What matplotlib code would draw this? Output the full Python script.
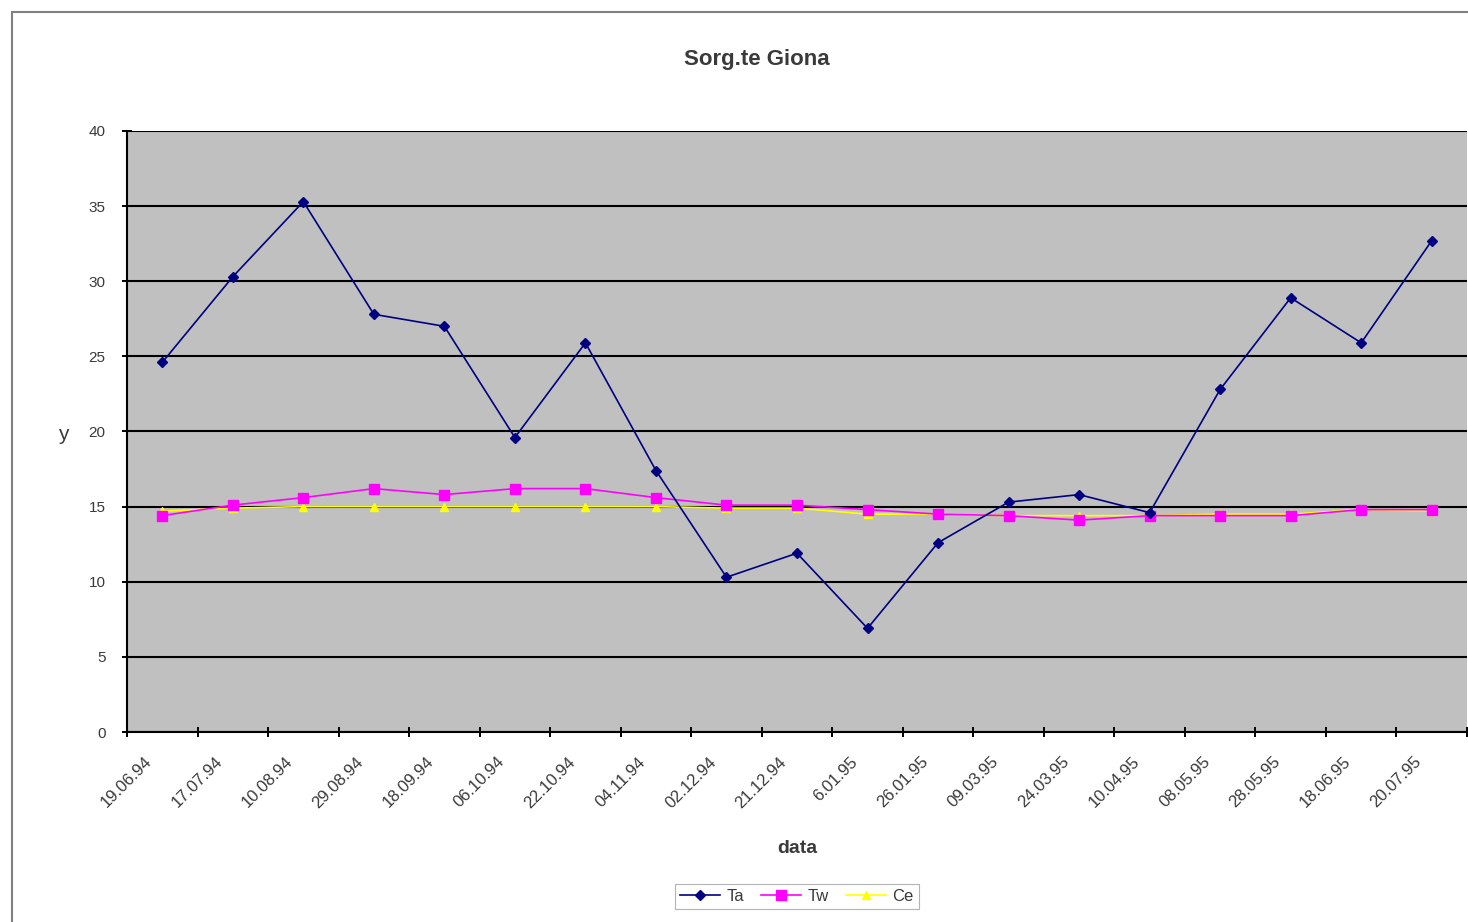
import matplotlib
matplotlib.use("Agg")
import matplotlib.pyplot as plt
import matplotlib.patches as mpatches
import matplotlib.transforms as mtrans
import numpy as np

plt.rcParams['font.family'] = ['Liberation Sans', 'DejaVu Sans']

title = "Sorg.te Giona"
x_label = "data"
y_label = "y"
dates = ["19.06.94", "17.07.94", "10.08.94", "29.08.94", "18.09.94", "06.10.94",
         "22.10.94", "04.11.94", "02.12.94", "21.12.94", "6.01.95", "26.01.95",
         "09.03.95", "24.03.95", "10.04.95", "08.05.95", "28.05.95", "18.06.95",
         "20.07.95"]
ta = [24.6, 30.3, 35.3, 27.8, 27.0, 19.6, 25.9, 17.4, 10.3, 11.9,
      6.9, 12.6, 15.3, 15.8, 14.6, 22.8, 28.9, 25.9, 32.7]
tw = [14.4, 15.1, 15.6, 16.2, 15.8, 16.2, 16.2, 15.6, 15.1, 15.1,
      14.8, 14.5, 14.4, 14.1, 14.4, 14.4, 14.4, 14.8, 14.8]
ce = [14.7, 14.9, 15.0, 15.0, 15.0, 15.0, 15.0, 15.0, 14.9, 14.9,
      14.5, 14.5, 14.4, 14.4, 14.4, 14.5, 14.5, 14.8, 14.7]
y_ticks = [0, 5, 10, 15, 20, 25, 30, 35, 40]

W, H = 1468, 922
txt_col = "#3a3a3a"
fig = plt.figure(figsize=(W / 100, H / 100), dpi=100)
fig.patch.set_facecolor("white")

# chart area border
fig.patches.append(mpatches.Rectangle((12 / W, -0.01), 1.1, 1 - 12 / H + 0.01,
                                      transform=fig.transFigure, fill=False,
                                      edgecolor="#808080", lw=1.5))

ax = fig.add_axes([127 / W, 1 - 732 / H, (1467 - 127) / W, (732 - 131) / H])
ax.set_facecolor("#c0c0c0")

x = np.arange(len(dates))
ax.set_axisbelow(True)
ax.yaxis.grid(True, color="black", lw=1.5)
ax.plot(x, ce, color="#ffff00", lw=1.2, marker="^", ms=6, mfc="#ffff00",
        mec="#ffff00", label="Ce", zorder=3)
ax.plot(x, tw, color="#ff00ff", lw=1.2, marker="s", ms=7, mfc="#ff00ff",
        mec="#ff00ff", label="Tw", zorder=4)
ax.plot(x, ta, color="#000080", lw=1.2, marker="D", ms=5, mfc="#000080",
        mec="#000080", label="Ta", zorder=5)

ax.set_xlim(-0.5, len(dates) - 0.5)
ax.set_ylim(0, 40)
ax.set_yticks(y_ticks)
ax.tick_params(axis="y", labelsize=11, labelcolor=txt_col, length=7, width=1.4,
               direction="inout", pad=12)
ax.set_xticks(x)
ax.set_xticklabels(dates, rotation=45, ha="right", rotation_mode="anchor",
                   fontsize=12, color=txt_col)
ax.set_xticks(np.arange(-0.5, len(dates), 1), minor=True)
ax.tick_params(axis="x", which="major", length=0, pad=16)
ax.tick_params(axis="x", which="minor", length=7, width=1.4, direction="inout")
shift = mtrans.ScaledTranslation(-18 / 100, 0, fig.dpi_scale_trans)
for lab in ax.get_xticklabels():
    lab.set_transform(lab.get_transform() + shift)

for s in ["top", "right"]:
    ax.spines[s].set_visible(False)
ax.spines["left"].set_linewidth(1.5)
ax.spines["bottom"].set_linewidth(1.5)

fig.text(757 / W, 1 - 60 / H, title, ha="center", va="center", fontsize=16,
         fontweight="bold", color=txt_col)
fig.text(797 / W, 1 - 848 / H, x_label, ha="center", va="center", fontsize=14,
         fontweight="bold", color=txt_col)
fig.text(63 / W, 1 - 434 / H, y_label, ha="center", va="center", fontsize=15,
         color=txt_col)

handles, labels = ax.get_legend_handles_labels()
order = [2, 1, 0]
leg = fig.legend([handles[i] for i in order], [labels[i] for i in order],
                 loc="center", bbox_to_anchor=(797 / W, 1 - 896 / H), ncol=3,
                 fontsize=12, frameon=True, fancybox=False, handlelength=2.4,
                 columnspacing=1.0, handletextpad=0.4, borderpad=0.3)
for t in leg.get_texts():
    t.set_color(txt_col)
leg.get_frame().set_edgecolor("#a0a0a0")
leg.get_frame().set_linewidth(0.8)

fig.savefig("out.png", dpi=100, facecolor="white")
